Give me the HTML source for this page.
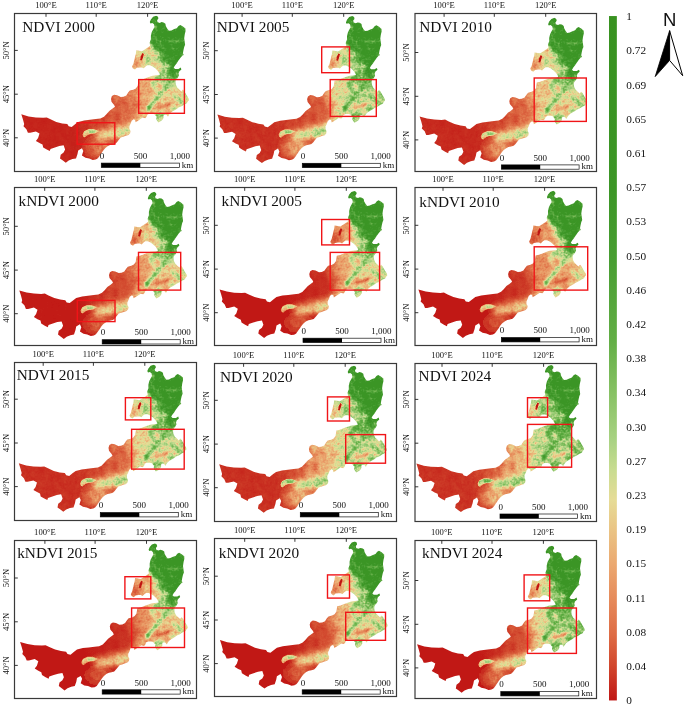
<!DOCTYPE html><html><head><meta charset="utf-8"><title>NDVI kNDVI maps</title>
<style>html,body{margin:0;padding:0;background:#fff}svg{display:block}text{font-family:"Liberation Serif",serif;fill:#111}</style></head><body>
<svg width="685" height="706" viewBox="0 0 685 706">
<defs>
<clipPath id="mapclip"><path d="M6.9,100.9 L14.2,103.0 L21.5,104.1 L28.8,104.4 L32.4,104.1 L36.1,105.9 L41.9,108.5 L47.8,110.0 L52.9,110.7 L54.3,112.9 L57.3,113.6 L60.9,110.7 L63.8,108.5 L69.7,107.0 L75.5,106.3 L81.4,105.6 L85.9,105.1 L89.6,103.3 L92.2,100.7 L94.9,97.6 L97.9,95.4 L100.6,93.3 L99.7,91.5 L97.1,88.4 L96.6,85.4 L97.5,82.7 L99.7,81.4 L102.8,81.9 L106.3,83.6 L109.2,83.3 L111.9,82.0 L113.6,79.4 L115.4,77.2 L118.9,76.3 L121.5,75.0 L123.3,72.4 L124.1,67.1 L127.6,66.3 L131.1,64.9 L134.6,63.6 L138.2,62.3 L141.7,61.9 L145.6,61.4 L144.7,59.7 L143.4,57.5 L140.8,54.9 L138.2,53.1 L135.5,51.8 L132.9,51.8 L131.1,53.1 L129.4,54.9 L127.6,54.0 L125.0,54.0 L122.4,54.4 L120.6,56.2 L118.4,54.9 L117.6,53.1 L118.9,50.5 L119.8,47.0 L120.6,43.5 L121.5,40.0 L121.9,36.9 L125.0,37.4 L127.6,37.8 L131.1,35.6 L134.1,33.6 L135.7,32.3 L135.2,29.3 L136.5,25.8 L136.5,22.2 L137.4,18.7 L138.7,16.1 L140.1,13.5 L139.6,10.9 L137.9,9.5 L136.1,10.0 L135.4,8.7 L136.5,6.0 L138.7,3.4 L141.8,2.3 L143.6,3.4 L144.0,5.2 L142.7,6.9 L143.1,8.7 L145.3,9.5 L147.1,8.7 L149.2,9.1 L151.0,10.4 L151.4,12.6 L152.8,15.2 L154.5,17.4 L157.1,17.0 L159.8,15.7 L162.4,14.8 L164.1,12.6 L165.9,11.6 L168.5,13.1 L171.1,15.2 L171.1,17.9 L170.3,21.4 L169.8,24.9 L170.3,28.4 L170.7,31.4 L169.8,33.6 L169.0,37.1 L168.5,39.8 L169.4,41.5 L168.1,42.1 L166.3,44.1 L164.1,47.2 L162.4,49.8 L160.6,52.0 L159.3,54.2 L160.6,55.5 L164.1,55.5 L166.3,54.2 L167.0,56.0 L165.0,57.9 L164.1,60.0 L164.6,62.2 L163.3,64.4 L161.5,66.6 L161.1,68.8 L161.5,71.4 L162.8,74.1 L165.0,76.2 L166.8,78.0 L168.5,76.2 L169.8,77.6 L171.1,79.8 L172.5,82.4 L174.2,85.0 L174.6,86.8 L173.3,88.1 L172.5,89.8 L170.7,90.7 L168.5,92.0 L166.3,93.3 L164.1,94.2 L162.4,95.5 L160.2,96.8 L158.0,98.1 L155.8,99.9 L154.5,101.7 L153.6,103.4 L152.3,101.7 L150.6,101.2 L149.2,102.1 L149.2,104.3 L147.9,106.5 L146.2,107.8 L144.0,109.1 L142.7,107.3 L141.8,105.6 L142.2,103.4 L140.9,102.1 L140.1,100.8 L137.9,100.3 L135.2,100.3 L133.0,101.2 L132.2,103.4 L130.9,104.8 L128.2,104.2 L126.0,105.7 L123.3,107.5 L121.1,108.8 L120.7,106.6 L119.0,105.9 L117.2,107.5 L116.3,110.1 L115.0,112.7 L115.0,115.4 L116.1,117.6 L115.7,119.8 L114.1,121.5 L111.5,122.4 L108.9,123.3 L106.3,124.1 L104.5,126.3 L102.8,128.5 L101.0,130.3 L98.4,131.1 L95.7,131.6 L93.1,132.9 L90.5,135.1 L88.7,137.3 L87.0,139.9 L85.2,142.5 L83.5,144.8 L81.4,146.1 L78.4,146.5 L74.8,145.0 L71.1,144.3 L67.5,142.1 L68.9,137.7 L67.5,134.8 L63.8,137.0 L63.1,140.6 L61.6,145.0 L58.0,145.7 L54.3,147.2 L51.4,149.4 L48.5,147.2 L45.6,145.0 L46.3,141.3 L49.2,139.2 L50.7,136.2 L49.2,131.9 L44.9,132.6 L40.5,134.0 L36.1,135.5 L35.4,137.7 L32.4,136.2 L28.8,134.0 L28.1,131.1 L25.1,129.7 L21.5,127.5 L23.7,124.6 L25.1,120.2 L21.5,118.0 L15.7,119.4 L13.5,119.4 L12.0,115.8 L9.1,112.9 L9.8,110.7 L8.4,105.6Z"/></clipPath>
<filter id="b05" x="-60%" y="-60%" width="220%" height="220%"><feGaussianBlur stdDeviation="0.6"/></filter>
<filter id="b6" x="-60%" y="-60%" width="220%" height="220%"><feGaussianBlur stdDeviation="6"/></filter>
<filter id="b4" x="-60%" y="-60%" width="220%" height="220%"><feGaussianBlur stdDeviation="4"/></filter>
<filter id="b3" x="-60%" y="-60%" width="220%" height="220%"><feGaussianBlur stdDeviation="3"/></filter>
<filter id="b2" x="-60%" y="-60%" width="220%" height="220%"><feGaussianBlur stdDeviation="2"/></filter>
<filter id="b1" x="-60%" y="-60%" width="220%" height="220%"><feGaussianBlur stdDeviation="1.1"/></filter>
<filter id="ramp" filterUnits="userSpaceOnUse" x="0" y="0" width="190" height="160" color-interpolation-filters="sRGB"><feTurbulence type="fractalNoise" baseFrequency="0.16" numOctaves="2" seed="3" result="n1"/><feTurbulence type="fractalNoise" baseFrequency="0.55" numOctaves="1" seed="11" result="n2"/><feComposite in="n1" in2="n2" operator="arithmetic" k1="0" k2="0.6" k3="0.4" k4="0" result="n3"/><feColorMatrix in="n3" type="matrix" values="1 0 0 0 0  1 0 0 0 0  1 0 0 0 0  0 0 0 0 1" result="n"/><feComposite in="SourceGraphic" in2="n" operator="arithmetic" k1="1.7" k2="0.15" k3="0" k4="0" result="v"/><feComponentTransfer in="v"><feFuncR type="table" tableValues="0.753 0.788 0.824 0.847 0.871 0.890 0.906 0.918 0.922 0.918 0.914 0.902 0.843 0.784 0.702 0.631 0.576 0.525 0.478 0.431 0.384 0.365 0.345 0.322 0.302 0.282 0.271 0.255 0.243 0.235 0.235"/><feFuncG type="table" tableValues="0.086 0.184 0.282 0.353 0.424 0.502 0.573 0.627 0.686 0.741 0.800 0.863 0.863 0.863 0.835 0.808 0.784 0.757 0.733 0.706 0.682 0.671 0.659 0.643 0.631 0.620 0.612 0.600 0.592 0.588 0.588"/><feFuncB type="table" tableValues="0.078 0.129 0.180 0.224 0.271 0.325 0.373 0.420 0.459 0.498 0.541 0.588 0.576 0.565 0.529 0.486 0.431 0.388 0.349 0.310 0.271 0.255 0.239 0.227 0.212 0.196 0.184 0.169 0.157 0.149 0.149"/></feComponentTransfer></filter>
<linearGradient id="cbar" x1="0" y1="0" x2="0" y2="1"><stop offset="-0.0001" stop-color="#389220"/><stop offset="0.2540" stop-color="#3c9626"/><stop offset="0.3562" stop-color="#489e32"/><stop offset="0.4731" stop-color="#62ae45"/><stop offset="0.5607" stop-color="#8cc468"/><stop offset="0.6191" stop-color="#a8d282"/><stop offset="0.6629" stop-color="#c8dc90"/><stop offset="0.7067" stop-color="#e6dc96"/><stop offset="0.7505" stop-color="#eac484"/><stop offset="0.8017" stop-color="#eba870"/><stop offset="0.8528" stop-color="#e68a5a"/><stop offset="0.9039" stop-color="#de6c45"/><stop offset="0.9477" stop-color="#d2482e"/><stop offset="1.0000" stop-color="#c01614"/></linearGradient>
<linearGradient id="g00" gradientUnits="userSpaceOnUse" x1="10" y1="130" x2="150" y2="80"><stop offset="0" stop-color="#050505"/><stop offset="0.34" stop-color="#050505"/><stop offset="0.5" stop-color="#0f0f0f"/><stop offset="0.62" stop-color="#1a1a1a"/><stop offset="0.75" stop-color="#222222"/><stop offset="0.82" stop-color="#333333"/><stop offset="0.9" stop-color="#444444"/><stop offset="1.0" stop-color="#555555"/></linearGradient>
<linearGradient id="g01" gradientUnits="userSpaceOnUse" x1="10" y1="130" x2="150" y2="80"><stop offset="0" stop-color="#090909"/><stop offset="0.36" stop-color="#090909"/><stop offset="0.5" stop-color="#0f0f0f"/><stop offset="0.62" stop-color="#151515"/><stop offset="0.75" stop-color="#1c1c1c"/><stop offset="0.82" stop-color="#555555"/><stop offset="0.9" stop-color="#666666"/><stop offset="1.0" stop-color="#777777"/></linearGradient>
<linearGradient id="g02" gradientUnits="userSpaceOnUse" x1="10" y1="130" x2="150" y2="80"><stop offset="0" stop-color="#070707"/><stop offset="0.36" stop-color="#070707"/><stop offset="0.5" stop-color="#0f0f0f"/><stop offset="0.62" stop-color="#1a1a1a"/><stop offset="0.75" stop-color="#222222"/><stop offset="0.82" stop-color="#484848"/><stop offset="0.9" stop-color="#535353"/><stop offset="1.0" stop-color="#5e5e5e"/></linearGradient>
<linearGradient id="g10" gradientUnits="userSpaceOnUse" x1="10" y1="130" x2="150" y2="80"><stop offset="0" stop-color="#020202"/><stop offset="0.4" stop-color="#020202"/><stop offset="0.5" stop-color="#090909"/><stop offset="0.62" stop-color="#0f0f0f"/><stop offset="0.75" stop-color="#151515"/><stop offset="0.82" stop-color="#2a2a2a"/><stop offset="0.9" stop-color="#3e3e3e"/><stop offset="1.0" stop-color="#515151"/></linearGradient>
<linearGradient id="g11" gradientUnits="userSpaceOnUse" x1="10" y1="130" x2="150" y2="80"><stop offset="0" stop-color="#010101"/><stop offset="0.43" stop-color="#010101"/><stop offset="0.5" stop-color="#040404"/><stop offset="0.62" stop-color="#060606"/><stop offset="0.75" stop-color="#090909"/><stop offset="0.82" stop-color="#2a2a2a"/><stop offset="0.9" stop-color="#444444"/><stop offset="1.0" stop-color="#5e5e5e"/></linearGradient>
<linearGradient id="g12" gradientUnits="userSpaceOnUse" x1="10" y1="130" x2="150" y2="80"><stop offset="0" stop-color="#010101"/><stop offset="0.43" stop-color="#010101"/><stop offset="0.5" stop-color="#040404"/><stop offset="0.62" stop-color="#090909"/><stop offset="0.75" stop-color="#0d0d0d"/><stop offset="0.82" stop-color="#2a2a2a"/><stop offset="0.9" stop-color="#333333"/><stop offset="1.0" stop-color="#3c3c3c"/></linearGradient>
<linearGradient id="g20" gradientUnits="userSpaceOnUse" x1="10" y1="130" x2="150" y2="80"><stop offset="0" stop-color="#090909"/><stop offset="0.36" stop-color="#090909"/><stop offset="0.5" stop-color="#0f0f0f"/><stop offset="0.62" stop-color="#1a1a1a"/><stop offset="0.75" stop-color="#222222"/><stop offset="0.82" stop-color="#515151"/><stop offset="0.9" stop-color="#5e5e5e"/><stop offset="1.0" stop-color="#6a6a6a"/></linearGradient>
<linearGradient id="g21" gradientUnits="userSpaceOnUse" x1="10" y1="130" x2="150" y2="80"><stop offset="0" stop-color="#090909"/><stop offset="0.36" stop-color="#090909"/><stop offset="0.5" stop-color="#131313"/><stop offset="0.62" stop-color="#2f2f2f"/><stop offset="0.75" stop-color="#444444"/><stop offset="0.82" stop-color="#595959"/><stop offset="0.9" stop-color="#666666"/><stop offset="1.0" stop-color="#737373"/></linearGradient>
<linearGradient id="g22" gradientUnits="userSpaceOnUse" x1="10" y1="130" x2="150" y2="80"><stop offset="0" stop-color="#0a0a0a"/><stop offset="0.34" stop-color="#0a0a0a"/><stop offset="0.5" stop-color="#171717"/><stop offset="0.62" stop-color="#373737"/><stop offset="0.75" stop-color="#4c4c4c"/><stop offset="0.82" stop-color="#666666"/><stop offset="0.9" stop-color="#737373"/><stop offset="1.0" stop-color="#808080"/></linearGradient>
<linearGradient id="g30" gradientUnits="userSpaceOnUse" x1="10" y1="130" x2="150" y2="80"><stop offset="0" stop-color="#010101"/><stop offset="0.43" stop-color="#010101"/><stop offset="0.5" stop-color="#040404"/><stop offset="0.62" stop-color="#060606"/><stop offset="0.75" stop-color="#0b0b0b"/><stop offset="0.82" stop-color="#222222"/><stop offset="0.9" stop-color="#373737"/><stop offset="1.0" stop-color="#4c4c4c"/></linearGradient>
<linearGradient id="g31" gradientUnits="userSpaceOnUse" x1="10" y1="130" x2="150" y2="80"><stop offset="0" stop-color="#010101"/><stop offset="0.42" stop-color="#010101"/><stop offset="0.5" stop-color="#050505"/><stop offset="0.62" stop-color="#0d0d0d"/><stop offset="0.75" stop-color="#151515"/><stop offset="0.82" stop-color="#373737"/><stop offset="0.9" stop-color="#4c4c4c"/><stop offset="1.0" stop-color="#626262"/></linearGradient>
<linearGradient id="g32" gradientUnits="userSpaceOnUse" x1="10" y1="130" x2="150" y2="80"><stop offset="0" stop-color="#010101"/><stop offset="0.4" stop-color="#010101"/><stop offset="0.5" stop-color="#060606"/><stop offset="0.62" stop-color="#0f0f0f"/><stop offset="0.75" stop-color="#171717"/><stop offset="0.82" stop-color="#484848"/><stop offset="0.9" stop-color="#666666"/><stop offset="1.0" stop-color="#848484"/></linearGradient>
</defs>
<rect width="685" height="706" fill="#fff"/>
<g transform="translate(14.4,13.4)">
<g transform="translate(0,0)"><g clip-path="url(#mapclip)" filter="url(#ramp)"><rect x="-5" y="-5" width="200" height="170" fill="url(#g00)"/><ellipse cx="86" cy="134" rx="13" ry="8" fill="#2a2a2a" filter="url(#b4)"/><path d="M86,121.5 L98,119.5 L108,116.5 L117,116 L124,109 L131,101" fill="none" stroke="#595959" stroke-width="9" stroke-linecap="round" stroke-linejoin="round" filter="url(#b3)"/><ellipse cx="109" cy="119" rx="7" ry="5" fill="#6a6a6a" filter="url(#b2)"/><path d="M68.7,121 L70.2,118 L74.1,116.2 L79.4,116.2 L84,117.9 L81.1,119.6 L76.8,119.9 L73.3,121.2 L70.6,123.5 L69.2,123Z" fill="#6a6a6a" stroke="#6a6a6a" stroke-width="0.6" stroke-linejoin="round" filter="url(#b05)"/><path d="M83.5,118.6 L88.5,122.2 L97,122.6 L103,120.5" fill="none" stroke="#595959" stroke-width="1.7" stroke-linecap="round" stroke-linejoin="round" filter="url(#b1)"/><ellipse cx="128" cy="45" rx="12" ry="13" fill="#5e5e5e" filter="url(#b3)"/><ellipse cx="122" cy="51" rx="5" ry="5" fill="#373737" filter="url(#b2)"/><ellipse cx="152" cy="66" rx="17" ry="7.5" fill="#7b7b7b" filter="url(#b3)"/><ellipse cx="167" cy="86" rx="7" ry="10" fill="#6a6a6a" filter="url(#b3)"/><path d="M158,66 L147,80 L134,95" fill="none" stroke="#959595" stroke-width="4.2" stroke-linecap="round" filter="url(#b1)"/><path d="M143,93.8 L150,92.6 L156.5,89.6" fill="none" stroke="#222222" stroke-width="2.6" stroke-linecap="round" filter="url(#b1)"/><ellipse cx="146" cy="104" rx="6" ry="5" fill="#959595" filter="url(#b2)"/><path d="M128,-6 L190,-6 L190,52 L172,60 L162,64.5 L153,65 L149,52 L143,40 L136,31Z" fill="#aaaaaa" filter="url(#b3)"/><path d="M130,-6 L190,-6 L190,50 L173,58 L163,62.5 L158,62 L155,52 L150,40 L140,30 L134,20Z" fill="#ffffff" filter="url(#b3)"/><path d="M127.9,39.6 L129.6,40.4 L128.6,44 L127.6,47.2 L125.7,46.6 L126.3,43Z" fill="#000"/></g></g>
<rect x="62.7" y="109.3" width="37.7" height="21.5" fill="none" stroke="#f01418" stroke-width="1.4"/>
<rect x="124.3" y="66.2" width="45.7" height="33.7" fill="none" stroke="#f01418" stroke-width="1.4"/>
</g>
<g transform="translate(14.5,13.5)">
<rect x="0" y="0" width="182.0" height="158.0" fill="none" stroke="#3a3a3a" stroke-width="1.2"/>
<line x1="31.5" y1="0" x2="31.5" y2="3.3" stroke="#222" stroke-width="0.9"/>
<text x="31.5" y="-5.6" font-size="8.6" text-anchor="middle">100°E</text>
<line x1="81.7" y1="0" x2="81.7" y2="3.3" stroke="#222" stroke-width="0.9"/>
<text x="81.7" y="-5.6" font-size="8.6" text-anchor="middle">110°E</text>
<line x1="133.1" y1="0" x2="133.1" y2="3.3" stroke="#222" stroke-width="0.9"/>
<text x="133.1" y="-5.6" font-size="8.6" text-anchor="middle">120°E</text>
<line x1="0" y1="36.9" x2="3.3" y2="36.9" stroke="#222" stroke-width="0.9"/>
<text transform="translate(-5.6,36.9) rotate(-90)" font-size="8.6" text-anchor="middle">50°N</text>
<line x1="0" y1="80.7" x2="3.3" y2="80.7" stroke="#222" stroke-width="0.9"/>
<text transform="translate(-5.6,80.7) rotate(-90)" font-size="8.6" text-anchor="middle">45°N</text>
<line x1="0" y1="124.3" x2="3.3" y2="124.3" stroke="#222" stroke-width="0.9"/>
<text transform="translate(-5.6,124.3) rotate(-90)" font-size="8.6" text-anchor="middle">40°N</text>
<text x="7.8" y="18.9" font-size="15.3">NDVI 2000</text>
<rect x="86.8" y="149.6" width="78.1" height="4.3" fill="#fff" stroke="#111" stroke-width="0.7"/>
<rect x="86.8" y="149.6" width="39.0" height="4.3" fill="#000"/>
<text x="87.5" y="145.3" font-size="9" text-anchor="middle">0</text>
<text x="125.9" y="145.3" font-size="9" text-anchor="middle">500</text>
<text x="165.3" y="145.3" font-size="9" text-anchor="middle">1,000</text>
<text x="167.3" y="154.1" font-size="9">km</text>
</g>
<g transform="translate(214.7,13.4)">
<g transform="translate(-4.2,0.3)"><g clip-path="url(#mapclip)" filter="url(#ramp)"><rect x="-5" y="-5" width="200" height="170" fill="url(#g01)"/><ellipse cx="86" cy="134" rx="13" ry="8" fill="#404040" filter="url(#b4)"/><path d="M86,121.5 L98,119.5 L108,116.5 L117,116 L124,109 L131,101" fill="none" stroke="#6e6e6e" stroke-width="9" stroke-linecap="round" stroke-linejoin="round" filter="url(#b3)"/><ellipse cx="109" cy="119" rx="7" ry="5" fill="#808080" filter="url(#b2)"/><path d="M68.7,121 L70.2,118 L74.1,116.2 L79.4,116.2 L84,117.9 L81.1,119.6 L76.8,119.9 L73.3,121.2 L70.6,123.5 L69.2,123Z" fill="#737373" stroke="#737373" stroke-width="0.6" stroke-linejoin="round" filter="url(#b05)"/><path d="M83.5,118.6 L88.5,122.2 L97,122.6 L103,120.5" fill="none" stroke="#626262" stroke-width="1.7" stroke-linecap="round" stroke-linejoin="round" filter="url(#b1)"/><ellipse cx="128" cy="45" rx="12" ry="13" fill="#626262" filter="url(#b3)"/><ellipse cx="122" cy="51" rx="5" ry="5" fill="#373737" filter="url(#b2)"/><ellipse cx="152" cy="66" rx="17" ry="7.5" fill="#999999" filter="url(#b3)"/><ellipse cx="167" cy="86" rx="7" ry="10" fill="#7b7b7b" filter="url(#b3)"/><path d="M158,66 L147,80 L134,95" fill="none" stroke="#aeaeae" stroke-width="4.2" stroke-linecap="round" filter="url(#b1)"/><path d="M143,93.8 L150,92.6 L156.5,89.6" fill="none" stroke="#333333" stroke-width="2.6" stroke-linecap="round" filter="url(#b1)"/><ellipse cx="146" cy="104" rx="6" ry="5" fill="#a2a2a2" filter="url(#b2)"/><path d="M128,-6 L190,-6 L190,52 L172,60 L162,64.5 L153,65 L149,52 L143,40 L136,31Z" fill="#aaaaaa" filter="url(#b3)"/><path d="M130,-6 L190,-6 L190,50 L173,58 L163,62.5 L158,62 L155,52 L150,40 L140,30 L134,20Z" fill="#ffffff" filter="url(#b3)"/><path d="M127.9,39.6 L129.6,40.4 L128.6,44 L127.6,47.2 L125.7,46.6 L126.3,43Z" fill="#000"/></g></g>
<rect x="107.0" y="33.5" width="27.8" height="25.8" fill="none" stroke="#f01418" stroke-width="1.4"/>
<rect x="115.5" y="66.2" width="46.1" height="36.8" fill="none" stroke="#f01418" stroke-width="1.4"/>
</g>
<g transform="translate(214.5,13.5)">
<rect x="0" y="0" width="182.0" height="158.0" fill="none" stroke="#3a3a3a" stroke-width="1.2"/>
<line x1="27.6" y1="0" x2="27.6" y2="3.3" stroke="#222" stroke-width="0.9"/>
<text x="27.6" y="-5.6" font-size="8.6" text-anchor="middle">100°E</text>
<line x1="77.8" y1="0" x2="77.8" y2="3.3" stroke="#222" stroke-width="0.9"/>
<text x="77.8" y="-5.6" font-size="8.6" text-anchor="middle">110°E</text>
<line x1="129.2" y1="0" x2="129.2" y2="3.3" stroke="#222" stroke-width="0.9"/>
<text x="129.2" y="-5.6" font-size="8.6" text-anchor="middle">120°E</text>
<line x1="0" y1="37.2" x2="3.3" y2="37.2" stroke="#222" stroke-width="0.9"/>
<text transform="translate(-5.6,37.2) rotate(-90)" font-size="8.6" text-anchor="middle">50°N</text>
<line x1="0" y1="81.0" x2="3.3" y2="81.0" stroke="#222" stroke-width="0.9"/>
<text transform="translate(-5.6,81.0) rotate(-90)" font-size="8.6" text-anchor="middle">45°N</text>
<line x1="0" y1="124.6" x2="3.3" y2="124.6" stroke="#222" stroke-width="0.9"/>
<text transform="translate(-5.6,124.6) rotate(-90)" font-size="8.6" text-anchor="middle">40°N</text>
<text x="2.2" y="18.9" font-size="15.3">NDVI 2005</text>
<rect x="87.8" y="149.8" width="78.0" height="4.3" fill="#fff" stroke="#111" stroke-width="0.7"/>
<rect x="87.8" y="149.8" width="39.0" height="4.3" fill="#000"/>
<text x="88.5" y="145.5" font-size="9" text-anchor="middle">0</text>
<text x="126.8" y="145.5" font-size="9" text-anchor="middle">500</text>
<text x="166.2" y="145.5" font-size="9" text-anchor="middle">1,000</text>
<text x="168.2" y="154.3" font-size="9">km</text>
</g>
<g transform="translate(415.0,13.4)">
<g transform="translate(-2.3,2.1)"><g clip-path="url(#mapclip)" filter="url(#ramp)"><rect x="-5" y="-5" width="200" height="170" fill="url(#g02)"/><ellipse cx="86" cy="134" rx="13" ry="8" fill="#373737" filter="url(#b4)"/><path d="M86,121.5 L98,119.5 L108,116.5 L117,116 L124,109 L131,101" fill="none" stroke="#666666" stroke-width="9" stroke-linecap="round" stroke-linejoin="round" filter="url(#b3)"/><ellipse cx="109" cy="119" rx="7" ry="5" fill="#777777" filter="url(#b2)"/><path d="M68.7,121 L70.2,118 L74.1,116.2 L79.4,116.2 L84,117.9 L81.1,119.6 L76.8,119.9 L73.3,121.2 L70.6,123.5 L69.2,123Z" fill="#737373" stroke="#737373" stroke-width="0.6" stroke-linejoin="round" filter="url(#b05)"/><path d="M83.5,118.6 L88.5,122.2 L97,122.6 L103,120.5" fill="none" stroke="#626262" stroke-width="1.7" stroke-linecap="round" stroke-linejoin="round" filter="url(#b1)"/><ellipse cx="128" cy="45" rx="12" ry="13" fill="#595959" filter="url(#b3)"/><ellipse cx="122" cy="51" rx="5" ry="5" fill="#333333" filter="url(#b2)"/><ellipse cx="152" cy="66" rx="17" ry="7.5" fill="#848484" filter="url(#b3)"/><ellipse cx="167" cy="86" rx="7" ry="10" fill="#777777" filter="url(#b3)"/><path d="M158,66 L147,80 L134,95" fill="none" stroke="#999999" stroke-width="4.2" stroke-linecap="round" filter="url(#b1)"/><path d="M143,93.8 L150,92.6 L156.5,89.6" fill="none" stroke="#333333" stroke-width="2.6" stroke-linecap="round" filter="url(#b1)"/><ellipse cx="146" cy="104" rx="6" ry="5" fill="#999999" filter="url(#b2)"/><path d="M128,-6 L190,-6 L190,52 L172,60 L162,64.5 L153,65 L149,52 L143,40 L136,31Z" fill="#aaaaaa" filter="url(#b3)"/><path d="M130,-6 L190,-6 L190,50 L173,58 L163,62.5 L158,62 L155,52 L150,40 L140,30 L134,20Z" fill="#ffffff" filter="url(#b3)"/><path d="M127.9,39.6 L129.6,40.4 L128.6,44 L127.6,47.2 L125.7,46.6 L126.3,43Z" fill="#000"/></g></g>
<rect x="119.2" y="64.6" width="52.1" height="43.4" fill="none" stroke="#f01418" stroke-width="1.4"/>
</g>
<g transform="translate(415.0,13.5)">
<rect x="0" y="0" width="181.5" height="158.0" fill="none" stroke="#3a3a3a" stroke-width="1.2"/>
<line x1="29.1" y1="0" x2="29.1" y2="3.3" stroke="#222" stroke-width="0.9"/>
<text x="29.1" y="-5.6" font-size="8.6" text-anchor="middle">100°E</text>
<line x1="79.3" y1="0" x2="79.3" y2="3.3" stroke="#222" stroke-width="0.9"/>
<text x="79.3" y="-5.6" font-size="8.6" text-anchor="middle">110°E</text>
<line x1="130.7" y1="0" x2="130.7" y2="3.3" stroke="#222" stroke-width="0.9"/>
<text x="130.7" y="-5.6" font-size="8.6" text-anchor="middle">120°E</text>
<line x1="0" y1="39.0" x2="3.3" y2="39.0" stroke="#222" stroke-width="0.9"/>
<text transform="translate(-5.6,39.0) rotate(-90)" font-size="8.6" text-anchor="middle">50°N</text>
<line x1="0" y1="82.8" x2="3.3" y2="82.8" stroke="#222" stroke-width="0.9"/>
<text transform="translate(-5.6,82.8) rotate(-90)" font-size="8.6" text-anchor="middle">45°N</text>
<line x1="0" y1="126.4" x2="3.3" y2="126.4" stroke="#222" stroke-width="0.9"/>
<text transform="translate(-5.6,126.4) rotate(-90)" font-size="8.6" text-anchor="middle">40°N</text>
<text x="4.3" y="18.9" font-size="15.3">NDVI 2010</text>
<rect x="86.4" y="151.4" width="77.7" height="4.3" fill="#fff" stroke="#111" stroke-width="0.7"/>
<rect x="86.4" y="151.4" width="38.8" height="4.3" fill="#000"/>
<text x="87.1" y="147.1" font-size="9" text-anchor="middle">0</text>
<text x="125.2" y="147.1" font-size="9" text-anchor="middle">500</text>
<text x="164.5" y="147.1" font-size="9" text-anchor="middle">1,000</text>
<text x="166.5" y="155.9" font-size="9">km</text>
</g>
<g transform="translate(14.4,188.2)">
<g transform="translate(-2.0,1.3)"><g clip-path="url(#mapclip)" filter="url(#ramp)"><rect x="-5" y="-5" width="200" height="170" fill="url(#g10)"/><ellipse cx="86" cy="134" rx="13" ry="8" fill="#1e1e1e" filter="url(#b4)"/><path d="M86,121.5 L98,119.5 L108,116.5 L117,116 L124,109 L131,101" fill="none" stroke="#555555" stroke-width="9" stroke-linecap="round" stroke-linejoin="round" filter="url(#b3)"/><ellipse cx="109" cy="119" rx="7" ry="5" fill="#666666" filter="url(#b2)"/><path d="M68.7,121 L70.2,118 L74.1,116.2 L79.4,116.2 L84,117.9 L81.1,119.6 L76.8,119.9 L73.3,121.2 L70.6,123.5 L69.2,123Z" fill="#666666" stroke="#666666" stroke-width="0.6" stroke-linejoin="round" filter="url(#b05)"/><path d="M83.5,118.6 L88.5,122.2 L97,122.6 L103,120.5" fill="none" stroke="#555555" stroke-width="1.7" stroke-linecap="round" stroke-linejoin="round" filter="url(#b1)"/><ellipse cx="128" cy="45" rx="12" ry="13" fill="#484848" filter="url(#b3)"/><ellipse cx="122" cy="51" rx="5" ry="5" fill="#1e1e1e" filter="url(#b2)"/><ellipse cx="152" cy="66" rx="17" ry="7.5" fill="#808080" filter="url(#b3)"/><ellipse cx="167" cy="86" rx="7" ry="10" fill="#6a6a6a" filter="url(#b3)"/><path d="M158,66 L147,80 L134,95" fill="none" stroke="#999999" stroke-width="4.2" stroke-linecap="round" filter="url(#b1)"/><path d="M143,93.8 L150,92.6 L156.5,89.6" fill="none" stroke="#1a1a1a" stroke-width="2.6" stroke-linecap="round" filter="url(#b1)"/><ellipse cx="146" cy="104" rx="6" ry="5" fill="#959595" filter="url(#b2)"/><path d="M128,-6 L190,-6 L190,52 L172,60 L162,64.5 L153,65 L149,52 L143,40 L136,31Z" fill="#aaaaaa" filter="url(#b3)"/><path d="M130,-6 L190,-6 L190,50 L173,58 L163,62.5 L158,62 L155,52 L150,40 L140,30 L134,20Z" fill="#ffffff" filter="url(#b3)"/><path d="M127.9,39.6 L129.6,40.4 L128.6,44 L127.6,47.2 L125.7,46.6 L126.3,43Z" fill="#000"/></g></g>
<rect x="62.9" y="112.2" width="37.7" height="21.2" fill="none" stroke="#f01418" stroke-width="1.4"/>
<rect x="124.1" y="64.2" width="42.2" height="37.7" fill="none" stroke="#f01418" stroke-width="1.4"/>
</g>
<g transform="translate(14.5,187.5)">
<rect x="0" y="0" width="182.0" height="158.0" fill="none" stroke="#3a3a3a" stroke-width="1.2"/>
<line x1="30.2" y1="0" x2="30.2" y2="3.3" stroke="#222" stroke-width="0.9"/>
<text x="30.2" y="-5.6" font-size="8.6" text-anchor="middle">100°E</text>
<line x1="80.4" y1="0" x2="80.4" y2="3.3" stroke="#222" stroke-width="0.9"/>
<text x="80.4" y="-5.6" font-size="8.6" text-anchor="middle">110°E</text>
<line x1="131.8" y1="0" x2="131.8" y2="3.3" stroke="#222" stroke-width="0.9"/>
<text x="131.8" y="-5.6" font-size="8.6" text-anchor="middle">120°E</text>
<line x1="0" y1="38.8" x2="3.3" y2="38.8" stroke="#222" stroke-width="0.9"/>
<text transform="translate(-5.6,38.8) rotate(-90)" font-size="8.6" text-anchor="middle">50°N</text>
<line x1="0" y1="82.6" x2="3.3" y2="82.6" stroke="#222" stroke-width="0.9"/>
<text transform="translate(-5.6,82.6) rotate(-90)" font-size="8.6" text-anchor="middle">45°N</text>
<line x1="0" y1="126.2" x2="3.3" y2="126.2" stroke="#222" stroke-width="0.9"/>
<text transform="translate(-5.6,126.2) rotate(-90)" font-size="8.6" text-anchor="middle">40°N</text>
<text x="4.1" y="18.7" font-size="15.3">kNDVI 2000</text>
<rect x="87.7" y="152.2" width="78.0" height="4.3" fill="#fff" stroke="#111" stroke-width="0.7"/>
<rect x="87.7" y="152.2" width="39.0" height="4.3" fill="#000"/>
<text x="88.4" y="147.9" font-size="9" text-anchor="middle">0</text>
<text x="126.7" y="147.9" font-size="9" text-anchor="middle">500</text>
<text x="166.1" y="147.9" font-size="9" text-anchor="middle">1,000</text>
<text x="168.1" y="156.7" font-size="9">km</text>
</g>
<g transform="translate(214.7,188.2)">
<g transform="translate(-2.0,0.4)"><g clip-path="url(#mapclip)" filter="url(#ramp)"><rect x="-5" y="-5" width="200" height="170" fill="url(#g11)"/><ellipse cx="86" cy="134" rx="13" ry="8" fill="#151515" filter="url(#b4)"/><path d="M86,121.5 L98,119.5 L108,116.5 L117,116 L124,109 L131,101" fill="none" stroke="#4c4c4c" stroke-width="9" stroke-linecap="round" stroke-linejoin="round" filter="url(#b3)"/><ellipse cx="109" cy="119" rx="7" ry="5" fill="#5e5e5e" filter="url(#b2)"/><path d="M68.7,121 L70.2,118 L74.1,116.2 L79.4,116.2 L84,117.9 L81.1,119.6 L76.8,119.9 L73.3,121.2 L70.6,123.5 L69.2,123Z" fill="#5e5e5e" stroke="#5e5e5e" stroke-width="0.6" stroke-linejoin="round" filter="url(#b05)"/><path d="M83.5,118.6 L88.5,122.2 L97,122.6 L103,120.5" fill="none" stroke="#4c4c4c" stroke-width="1.7" stroke-linecap="round" stroke-linejoin="round" filter="url(#b1)"/><ellipse cx="128" cy="45" rx="12" ry="13" fill="#333333" filter="url(#b3)"/><ellipse cx="122" cy="51" rx="5" ry="5" fill="#151515" filter="url(#b2)"/><ellipse cx="152" cy="66" rx="17" ry="7.5" fill="#777777" filter="url(#b3)"/><ellipse cx="167" cy="86" rx="7" ry="10" fill="#6e6e6e" filter="url(#b3)"/><path d="M158,66 L147,80 L134,95" fill="none" stroke="#959595" stroke-width="4.2" stroke-linecap="round" filter="url(#b1)"/><path d="M143,93.8 L150,92.6 L156.5,89.6" fill="none" stroke="#151515" stroke-width="2.6" stroke-linecap="round" filter="url(#b1)"/><ellipse cx="146" cy="104" rx="6" ry="5" fill="#959595" filter="url(#b2)"/><path d="M128,-6 L190,-6 L190,52 L172,60 L162,64.5 L153,65 L149,52 L143,40 L136,31Z" fill="#aaaaaa" filter="url(#b3)"/><path d="M130,-6 L190,-6 L190,50 L173,58 L163,62.5 L158,62 L155,52 L150,40 L140,30 L134,20Z" fill="#ffffff" filter="url(#b3)"/><path d="M127.9,39.6 L129.6,40.4 L128.6,44 L127.6,47.2 L125.7,46.6 L126.3,43Z" fill="#000"/></g></g>
<rect x="107.0" y="31.3" width="27.8" height="25.4" fill="none" stroke="#f01418" stroke-width="1.4"/>
<rect x="115.5" y="64.2" width="49.4" height="37.7" fill="none" stroke="#f01418" stroke-width="1.4"/>
</g>
<g transform="translate(214.5,187.5)">
<rect x="0" y="0" width="182.0" height="158.0" fill="none" stroke="#3a3a3a" stroke-width="1.2"/>
<line x1="30.2" y1="0" x2="30.2" y2="3.3" stroke="#222" stroke-width="0.9"/>
<text x="30.2" y="-5.6" font-size="8.6" text-anchor="middle">100°E</text>
<line x1="80.4" y1="0" x2="80.4" y2="3.3" stroke="#222" stroke-width="0.9"/>
<text x="80.4" y="-5.6" font-size="8.6" text-anchor="middle">110°E</text>
<line x1="131.8" y1="0" x2="131.8" y2="3.3" stroke="#222" stroke-width="0.9"/>
<text x="131.8" y="-5.6" font-size="8.6" text-anchor="middle">120°E</text>
<line x1="0" y1="37.8" x2="3.3" y2="37.8" stroke="#222" stroke-width="0.9"/>
<text transform="translate(-5.6,37.8) rotate(-90)" font-size="8.6" text-anchor="middle">50°N</text>
<line x1="0" y1="81.6" x2="3.3" y2="81.6" stroke="#222" stroke-width="0.9"/>
<text transform="translate(-5.6,81.6) rotate(-90)" font-size="8.6" text-anchor="middle">45°N</text>
<line x1="0" y1="125.2" x2="3.3" y2="125.2" stroke="#222" stroke-width="0.9"/>
<text transform="translate(-5.6,125.2) rotate(-90)" font-size="8.6" text-anchor="middle">40°N</text>
<text x="7.0" y="18.7" font-size="15.3">kNDVI 2005</text>
<rect x="88.5" y="150.7" width="78.0" height="4.3" fill="#fff" stroke="#111" stroke-width="0.7"/>
<rect x="88.5" y="150.7" width="39.0" height="4.3" fill="#000"/>
<text x="89.2" y="146.4" font-size="9" text-anchor="middle">0</text>
<text x="127.5" y="146.4" font-size="9" text-anchor="middle">500</text>
<text x="166.9" y="146.4" font-size="9" text-anchor="middle">1,000</text>
<text x="168.9" y="155.2" font-size="9">km</text>
</g>
<g transform="translate(415.0,188.2)">
<g transform="translate(-3.5,0.3)"><g clip-path="url(#mapclip)" filter="url(#ramp)"><rect x="-5" y="-5" width="200" height="170" fill="url(#g12)"/><ellipse cx="86" cy="134" rx="13" ry="8" fill="#151515" filter="url(#b4)"/><path d="M86,121.5 L98,119.5 L108,116.5 L117,116 L124,109 L131,101" fill="none" stroke="#444444" stroke-width="9" stroke-linecap="round" stroke-linejoin="round" filter="url(#b3)"/><ellipse cx="109" cy="119" rx="7" ry="5" fill="#555555" filter="url(#b2)"/><path d="M68.7,121 L70.2,118 L74.1,116.2 L79.4,116.2 L84,117.9 L81.1,119.6 L76.8,119.9 L73.3,121.2 L70.6,123.5 L69.2,123Z" fill="#5e5e5e" stroke="#5e5e5e" stroke-width="0.6" stroke-linejoin="round" filter="url(#b05)"/><path d="M83.5,118.6 L88.5,122.2 L97,122.6 L103,120.5" fill="none" stroke="#4c4c4c" stroke-width="1.7" stroke-linecap="round" stroke-linejoin="round" filter="url(#b1)"/><ellipse cx="128" cy="45" rx="12" ry="13" fill="#2f2f2f" filter="url(#b3)"/><ellipse cx="122" cy="51" rx="5" ry="5" fill="#151515" filter="url(#b2)"/><ellipse cx="152" cy="66" rx="17" ry="7.5" fill="#6e6e6e" filter="url(#b3)"/><ellipse cx="167" cy="86" rx="7" ry="10" fill="#626262" filter="url(#b3)"/><path d="M158,66 L147,80 L134,95" fill="none" stroke="#888888" stroke-width="4.2" stroke-linecap="round" filter="url(#b1)"/><path d="M143,93.8 L150,92.6 L156.5,89.6" fill="none" stroke="#151515" stroke-width="2.6" stroke-linecap="round" filter="url(#b1)"/><ellipse cx="146" cy="104" rx="6" ry="5" fill="#888888" filter="url(#b2)"/><path d="M128,-6 L190,-6 L190,52 L172,60 L162,64.5 L153,65 L149,52 L143,40 L136,31Z" fill="#aaaaaa" filter="url(#b3)"/><path d="M130,-6 L190,-6 L190,50 L173,58 L163,62.5 L158,62 L155,52 L150,40 L140,30 L134,20Z" fill="#ffffff" filter="url(#b3)"/><path d="M127.9,39.6 L129.6,40.4 L128.6,44 L127.6,47.2 L125.7,46.6 L126.3,43Z" fill="#000"/></g></g>
<rect x="119.2" y="58.6" width="53.5" height="43.3" fill="none" stroke="#f01418" stroke-width="1.4"/>
</g>
<g transform="translate(415.0,187.5)">
<rect x="0" y="0" width="181.5" height="158.0" fill="none" stroke="#3a3a3a" stroke-width="1.2"/>
<line x1="28.0" y1="0" x2="28.0" y2="3.3" stroke="#222" stroke-width="0.9"/>
<text x="28.0" y="-5.6" font-size="8.6" text-anchor="middle">100°E</text>
<line x1="78.2" y1="0" x2="78.2" y2="3.3" stroke="#222" stroke-width="0.9"/>
<text x="78.2" y="-5.6" font-size="8.6" text-anchor="middle">110°E</text>
<line x1="129.6" y1="0" x2="129.6" y2="3.3" stroke="#222" stroke-width="0.9"/>
<text x="129.6" y="-5.6" font-size="8.6" text-anchor="middle">120°E</text>
<line x1="0" y1="37.8" x2="3.3" y2="37.8" stroke="#222" stroke-width="0.9"/>
<text transform="translate(-5.6,37.8) rotate(-90)" font-size="8.6" text-anchor="middle">50°N</text>
<line x1="0" y1="81.6" x2="3.3" y2="81.6" stroke="#222" stroke-width="0.9"/>
<text transform="translate(-5.6,81.6) rotate(-90)" font-size="8.6" text-anchor="middle">45°N</text>
<line x1="0" y1="125.2" x2="3.3" y2="125.2" stroke="#222" stroke-width="0.9"/>
<text transform="translate(-5.6,125.2) rotate(-90)" font-size="8.6" text-anchor="middle">40°N</text>
<text x="4.3" y="19.2" font-size="15.3">kNDVI 2010</text>
<rect x="86.4" y="150.1" width="77.7" height="4.3" fill="#fff" stroke="#111" stroke-width="0.7"/>
<rect x="86.4" y="150.1" width="38.8" height="4.3" fill="#000"/>
<text x="87.1" y="145.8" font-size="9" text-anchor="middle">0</text>
<text x="125.2" y="145.8" font-size="9" text-anchor="middle">500</text>
<text x="164.5" y="145.8" font-size="9" text-anchor="middle">1,000</text>
<text x="166.5" y="154.6" font-size="9">km</text>
</g>
<g transform="translate(14.4,363.8)">
<g transform="translate(-2.5,-1.4)"><g clip-path="url(#mapclip)" filter="url(#ramp)"><rect x="-5" y="-5" width="200" height="170" fill="url(#g20)"/><ellipse cx="86" cy="134" rx="13" ry="8" fill="#373737" filter="url(#b4)"/><path d="M86,121.5 L98,119.5 L108,116.5 L117,116 L124,109 L131,101" fill="none" stroke="#6e6e6e" stroke-width="9" stroke-linecap="round" stroke-linejoin="round" filter="url(#b3)"/><ellipse cx="109" cy="119" rx="7" ry="5" fill="#808080" filter="url(#b2)"/><path d="M68.7,121 L70.2,118 L74.1,116.2 L79.4,116.2 L84,117.9 L81.1,119.6 L76.8,119.9 L73.3,121.2 L70.6,123.5 L69.2,123Z" fill="#737373" stroke="#737373" stroke-width="0.6" stroke-linejoin="round" filter="url(#b05)"/><path d="M83.5,118.6 L88.5,122.2 L97,122.6 L103,120.5" fill="none" stroke="#626262" stroke-width="1.7" stroke-linecap="round" stroke-linejoin="round" filter="url(#b1)"/><ellipse cx="128" cy="45" rx="12" ry="13" fill="#666666" filter="url(#b3)"/><ellipse cx="122" cy="51" rx="5" ry="5" fill="#484848" filter="url(#b2)"/><ellipse cx="152" cy="66" rx="17" ry="7.5" fill="#909090" filter="url(#b3)"/><ellipse cx="167" cy="86" rx="7" ry="10" fill="#777777" filter="url(#b3)"/><path d="M158,66 L147,80 L134,95" fill="none" stroke="#a2a2a2" stroke-width="4.2" stroke-linecap="round" filter="url(#b1)"/><path d="M143,93.8 L150,92.6 L156.5,89.6" fill="none" stroke="#333333" stroke-width="2.6" stroke-linecap="round" filter="url(#b1)"/><ellipse cx="146" cy="104" rx="6" ry="5" fill="#999999" filter="url(#b2)"/><path d="M128,-6 L190,-6 L190,52 L172,60 L162,64.5 L153,65 L149,52 L143,40 L136,31Z" fill="#aaaaaa" filter="url(#b3)"/><path d="M130,-6 L190,-6 L190,50 L173,58 L163,62.5 L158,62 L155,52 L150,40 L140,30 L134,20Z" fill="#ffffff" filter="url(#b3)"/><path d="M127.9,39.6 L129.6,40.4 L128.6,44 L127.6,47.2 L125.7,46.6 L126.3,43Z" fill="#000"/></g></g>
<rect x="111.0" y="33.9" width="25.4" height="22.2" fill="none" stroke="#f01418" stroke-width="1.4"/>
<rect x="117.2" y="65.5" width="52.6" height="39.8" fill="none" stroke="#f01418" stroke-width="1.4"/>
</g>
<g transform="translate(14.5,362.5)">
<rect x="0" y="0" width="182.0" height="158.0" fill="none" stroke="#3a3a3a" stroke-width="1.2"/>
<line x1="28.7" y1="0" x2="28.7" y2="3.3" stroke="#222" stroke-width="0.9"/>
<text x="28.7" y="-5.6" font-size="8.6" text-anchor="middle">100°E</text>
<line x1="78.9" y1="0" x2="78.9" y2="3.3" stroke="#222" stroke-width="0.9"/>
<text x="78.9" y="-5.6" font-size="8.6" text-anchor="middle">110°E</text>
<line x1="130.3" y1="0" x2="130.3" y2="3.3" stroke="#222" stroke-width="0.9"/>
<text x="130.3" y="-5.6" font-size="8.6" text-anchor="middle">120°E</text>
<line x1="0" y1="36.7" x2="3.3" y2="36.7" stroke="#222" stroke-width="0.9"/>
<text transform="translate(-5.6,36.7) rotate(-90)" font-size="8.6" text-anchor="middle">50°N</text>
<line x1="0" y1="80.5" x2="3.3" y2="80.5" stroke="#222" stroke-width="0.9"/>
<text transform="translate(-5.6,80.5) rotate(-90)" font-size="8.6" text-anchor="middle">45°N</text>
<line x1="0" y1="124.1" x2="3.3" y2="124.1" stroke="#222" stroke-width="0.9"/>
<text transform="translate(-5.6,124.1) rotate(-90)" font-size="8.6" text-anchor="middle">40°N</text>
<text x="2.2" y="17.9" font-size="15.3">NDVI 2015</text>
<rect x="85.8" y="150.1" width="78.0" height="4.3" fill="#fff" stroke="#111" stroke-width="0.7"/>
<rect x="85.8" y="150.1" width="39.0" height="4.3" fill="#000"/>
<text x="86.5" y="145.8" font-size="9" text-anchor="middle">0</text>
<text x="124.8" y="145.8" font-size="9" text-anchor="middle">500</text>
<text x="164.2" y="145.8" font-size="9" text-anchor="middle">1,000</text>
<text x="166.2" y="154.6" font-size="9">km</text>
</g>
<g transform="translate(214.7,363.8)">
<g transform="translate(-2.4,-0.4)"><g clip-path="url(#mapclip)" filter="url(#ramp)"><rect x="-5" y="-5" width="200" height="170" fill="url(#g21)"/><ellipse cx="86" cy="134" rx="13" ry="8" fill="#444444" filter="url(#b4)"/><path d="M86,121.5 L98,119.5 L108,116.5 L117,116 L124,109 L131,101" fill="none" stroke="#737373" stroke-width="9" stroke-linecap="round" stroke-linejoin="round" filter="url(#b3)"/><ellipse cx="109" cy="119" rx="7" ry="5" fill="#848484" filter="url(#b2)"/><path d="M68.7,121 L70.2,118 L74.1,116.2 L79.4,116.2 L84,117.9 L81.1,119.6 L76.8,119.9 L73.3,121.2 L70.6,123.5 L69.2,123Z" fill="#808080" stroke="#808080" stroke-width="0.6" stroke-linejoin="round" filter="url(#b05)"/><path d="M83.5,118.6 L88.5,122.2 L97,122.6 L103,120.5" fill="none" stroke="#6f6f6f" stroke-width="1.7" stroke-linecap="round" stroke-linejoin="round" filter="url(#b1)"/><ellipse cx="128" cy="45" rx="12" ry="13" fill="#6e6e6e" filter="url(#b3)"/><ellipse cx="122" cy="51" rx="5" ry="5" fill="#555555" filter="url(#b2)"/><ellipse cx="152" cy="66" rx="17" ry="7.5" fill="#a2a2a2" filter="url(#b3)"/><ellipse cx="167" cy="86" rx="7" ry="10" fill="#777777" filter="url(#b3)"/><path d="M158,66 L147,80 L134,95" fill="none" stroke="#a2a2a2" stroke-width="4.2" stroke-linecap="round" filter="url(#b1)"/><path d="M143,93.8 L150,92.6 L156.5,89.6" fill="none" stroke="#333333" stroke-width="2.6" stroke-linecap="round" filter="url(#b1)"/><ellipse cx="146" cy="104" rx="6" ry="5" fill="#999999" filter="url(#b2)"/><path d="M128,-6 L190,-6 L190,52 L172,60 L162,64.5 L153,65 L149,52 L143,40 L136,31Z" fill="#aaaaaa" filter="url(#b3)"/><path d="M130,-6 L190,-6 L190,50 L173,58 L163,62.5 L158,62 L155,52 L150,40 L140,30 L134,20Z" fill="#ffffff" filter="url(#b3)"/><path d="M127.9,39.6 L129.6,40.4 L128.6,44 L127.6,47.2 L125.7,46.6 L126.3,43Z" fill="#000"/></g></g>
<rect x="112.8" y="33.1" width="22.0" height="24.1" fill="none" stroke="#f01418" stroke-width="1.4"/>
<rect x="131.0" y="70.8" width="39.8" height="28.6" fill="none" stroke="#f01418" stroke-width="1.4"/>
</g>
<g transform="translate(214.5,363.5)">
<rect x="0" y="0" width="182.0" height="158.0" fill="none" stroke="#3a3a3a" stroke-width="1.2"/>
<line x1="29.1" y1="0" x2="29.1" y2="3.3" stroke="#222" stroke-width="0.9"/>
<text x="29.1" y="-5.6" font-size="8.6" text-anchor="middle">100°E</text>
<line x1="79.3" y1="0" x2="79.3" y2="3.3" stroke="#222" stroke-width="0.9"/>
<text x="79.3" y="-5.6" font-size="8.6" text-anchor="middle">110°E</text>
<line x1="130.7" y1="0" x2="130.7" y2="3.3" stroke="#222" stroke-width="0.9"/>
<text x="130.7" y="-5.6" font-size="8.6" text-anchor="middle">120°E</text>
<line x1="0" y1="36.8" x2="3.3" y2="36.8" stroke="#222" stroke-width="0.9"/>
<text transform="translate(-5.6,36.8) rotate(-90)" font-size="8.6" text-anchor="middle">50°N</text>
<line x1="0" y1="80.6" x2="3.3" y2="80.6" stroke="#222" stroke-width="0.9"/>
<text transform="translate(-5.6,80.6) rotate(-90)" font-size="8.6" text-anchor="middle">45°N</text>
<line x1="0" y1="124.2" x2="3.3" y2="124.2" stroke="#222" stroke-width="0.9"/>
<text transform="translate(-5.6,124.2) rotate(-90)" font-size="8.6" text-anchor="middle">40°N</text>
<text x="5.4" y="18.7" font-size="15.3">NDVI 2020</text>
<rect x="85.8" y="149.1" width="78.0" height="4.3" fill="#fff" stroke="#111" stroke-width="0.7"/>
<rect x="85.8" y="149.1" width="39.0" height="4.3" fill="#000"/>
<text x="86.5" y="144.8" font-size="9" text-anchor="middle">0</text>
<text x="124.8" y="144.8" font-size="9" text-anchor="middle">500</text>
<text x="164.2" y="144.8" font-size="9" text-anchor="middle">1,000</text>
<text x="166.2" y="153.6" font-size="9">km</text>
</g>
<g transform="translate(415.0,363.8)">
<g transform="translate(-5.5,-1.1)"><g clip-path="url(#mapclip)" filter="url(#ramp)"><rect x="-5" y="-5" width="200" height="170" fill="url(#g22)"/><ellipse cx="86" cy="134" rx="13" ry="8" fill="#4c4c4c" filter="url(#b4)"/><path d="M86,121.5 L98,119.5 L108,116.5 L117,116 L124,109 L131,101" fill="none" stroke="#7b7b7b" stroke-width="9" stroke-linecap="round" stroke-linejoin="round" filter="url(#b3)"/><ellipse cx="109" cy="119" rx="7" ry="5" fill="#8c8c8c" filter="url(#b2)"/><path d="M68.7,121 L70.2,118 L74.1,116.2 L79.4,116.2 L84,117.9 L81.1,119.6 L76.8,119.9 L73.3,121.2 L70.6,123.5 L69.2,123Z" fill="#8c8c8c" stroke="#8c8c8c" stroke-width="0.6" stroke-linejoin="round" filter="url(#b05)"/><path d="M83.5,118.6 L88.5,122.2 L97,122.6 L103,120.5" fill="none" stroke="#7b7b7b" stroke-width="1.7" stroke-linecap="round" stroke-linejoin="round" filter="url(#b1)"/><ellipse cx="128" cy="45" rx="12" ry="13" fill="#777777" filter="url(#b3)"/><ellipse cx="122" cy="51" rx="5" ry="5" fill="#5e5e5e" filter="url(#b2)"/><ellipse cx="152" cy="66" rx="17" ry="7.5" fill="#b2b2b2" filter="url(#b3)"/><ellipse cx="167" cy="86" rx="7" ry="10" fill="#888888" filter="url(#b3)"/><path d="M158,66 L147,80 L134,95" fill="none" stroke="#b7b7b7" stroke-width="4.2" stroke-linecap="round" filter="url(#b1)"/><path d="M143,93.8 L150,92.6 L156.5,89.6" fill="none" stroke="#404040" stroke-width="2.6" stroke-linecap="round" filter="url(#b1)"/><ellipse cx="146" cy="104" rx="6" ry="5" fill="#a2a2a2" filter="url(#b2)"/><path d="M128,-6 L190,-6 L190,52 L172,60 L162,64.5 L153,65 L149,52 L143,40 L136,31Z" fill="#aaaaaa" filter="url(#b3)"/><path d="M130,-6 L190,-6 L190,50 L173,58 L163,62.5 L158,62 L155,52 L150,40 L140,30 L134,20Z" fill="#ffffff" filter="url(#b3)"/><path d="M127.9,39.6 L129.6,40.4 L128.6,44 L127.6,47.2 L125.7,46.6 L126.3,43Z" fill="#000"/></g></g>
<rect x="112.5" y="33.9" width="20.1" height="19.5" fill="none" stroke="#f01418" stroke-width="1.4"/>
<rect x="112.5" y="60.6" width="44.1" height="42.8" fill="none" stroke="#f01418" stroke-width="1.4"/>
</g>
<g transform="translate(415.0,363.5)">
<rect x="0" y="0" width="181.5" height="158.0" fill="none" stroke="#3a3a3a" stroke-width="1.2"/>
<line x1="27.0" y1="0" x2="27.0" y2="3.3" stroke="#222" stroke-width="0.9"/>
<text x="27.0" y="-5.6" font-size="8.6" text-anchor="middle">100°E</text>
<line x1="77.2" y1="0" x2="77.2" y2="3.3" stroke="#222" stroke-width="0.9"/>
<text x="77.2" y="-5.6" font-size="8.6" text-anchor="middle">110°E</text>
<line x1="128.6" y1="0" x2="128.6" y2="3.3" stroke="#222" stroke-width="0.9"/>
<text x="128.6" y="-5.6" font-size="8.6" text-anchor="middle">120°E</text>
<line x1="0" y1="35.9" x2="3.3" y2="35.9" stroke="#222" stroke-width="0.9"/>
<text transform="translate(-5.6,35.9) rotate(-90)" font-size="8.6" text-anchor="middle">50°N</text>
<line x1="0" y1="79.7" x2="3.3" y2="79.7" stroke="#222" stroke-width="0.9"/>
<text transform="translate(-5.6,79.7) rotate(-90)" font-size="8.6" text-anchor="middle">45°N</text>
<line x1="0" y1="123.3" x2="3.3" y2="123.3" stroke="#222" stroke-width="0.9"/>
<text transform="translate(-5.6,123.3) rotate(-90)" font-size="8.6" text-anchor="middle">40°N</text>
<text x="3.6" y="17.2" font-size="15.3">NDVI 2024</text>
<rect x="85.0" y="150.5" width="77.5" height="4.3" fill="#fff" stroke="#111" stroke-width="0.7"/>
<rect x="85.0" y="150.5" width="38.8" height="4.3" fill="#000"/>
<text x="85.7" y="146.2" font-size="9" text-anchor="middle">0</text>
<text x="123.8" y="146.2" font-size="9" text-anchor="middle">500</text>
<text x="162.9" y="146.2" font-size="9" text-anchor="middle">1,000</text>
<text x="164.9" y="155.0" font-size="9">km</text>
</g>
<g transform="translate(14.4,540.3)">
<g transform="translate(-1.2,0.8)"><g clip-path="url(#mapclip)" filter="url(#ramp)"><rect x="-5" y="-5" width="200" height="170" fill="url(#g30)"/><ellipse cx="86" cy="134" rx="13" ry="8" fill="#151515" filter="url(#b4)"/><path d="M86,121.5 L98,119.5 L108,116.5 L117,116 L124,109 L131,101" fill="none" stroke="#484848" stroke-width="9" stroke-linecap="round" stroke-linejoin="round" filter="url(#b3)"/><ellipse cx="109" cy="119" rx="7" ry="5" fill="#595959" filter="url(#b2)"/><path d="M68.7,121 L70.2,118 L74.1,116.2 L79.4,116.2 L84,117.9 L81.1,119.6 L76.8,119.9 L73.3,121.2 L70.6,123.5 L69.2,123Z" fill="#5e5e5e" stroke="#5e5e5e" stroke-width="0.6" stroke-linejoin="round" filter="url(#b05)"/><path d="M83.5,118.6 L88.5,122.2 L97,122.6 L103,120.5" fill="none" stroke="#4c4c4c" stroke-width="1.7" stroke-linecap="round" stroke-linejoin="round" filter="url(#b1)"/><ellipse cx="128" cy="45" rx="12" ry="13" fill="#3c3c3c" filter="url(#b3)"/><ellipse cx="122" cy="51" rx="5" ry="5" fill="#1a1a1a" filter="url(#b2)"/><ellipse cx="152" cy="66" rx="17" ry="7.5" fill="#777777" filter="url(#b3)"/><ellipse cx="167" cy="86" rx="7" ry="10" fill="#666666" filter="url(#b3)"/><path d="M158,66 L147,80 L134,95" fill="none" stroke="#909090" stroke-width="4.2" stroke-linecap="round" filter="url(#b1)"/><path d="M143,93.8 L150,92.6 L156.5,89.6" fill="none" stroke="#151515" stroke-width="2.6" stroke-linecap="round" filter="url(#b1)"/><ellipse cx="146" cy="104" rx="6" ry="5" fill="#888888" filter="url(#b2)"/><path d="M128,-6 L190,-6 L190,52 L172,60 L162,64.5 L153,65 L149,52 L143,40 L136,31Z" fill="#aaaaaa" filter="url(#b3)"/><path d="M130,-6 L190,-6 L190,50 L173,58 L163,62.5 L158,62 L155,52 L150,40 L140,30 L134,20Z" fill="#ffffff" filter="url(#b3)"/><path d="M127.9,39.6 L129.6,40.4 L128.6,44 L127.6,47.2 L125.7,46.6 L126.3,43Z" fill="#000"/></g></g>
<rect x="110.5" y="36.4" width="25.9" height="22.2" fill="none" stroke="#f01418" stroke-width="1.4"/>
<rect x="117.2" y="67.7" width="52.9" height="39.5" fill="none" stroke="#f01418" stroke-width="1.4"/>
</g>
<g transform="translate(14.5,540.5)">
<rect x="0" y="0" width="182.0" height="158.0" fill="none" stroke="#3a3a3a" stroke-width="1.2"/>
<line x1="30.4" y1="0" x2="30.4" y2="3.3" stroke="#222" stroke-width="0.9"/>
<text x="30.4" y="-5.6" font-size="8.6" text-anchor="middle">100°E</text>
<line x1="80.6" y1="0" x2="80.6" y2="3.3" stroke="#222" stroke-width="0.9"/>
<text x="80.6" y="-5.6" font-size="8.6" text-anchor="middle">110°E</text>
<line x1="132.0" y1="0" x2="132.0" y2="3.3" stroke="#222" stroke-width="0.9"/>
<text x="132.0" y="-5.6" font-size="8.6" text-anchor="middle">120°E</text>
<line x1="0" y1="37.5" x2="3.3" y2="37.5" stroke="#222" stroke-width="0.9"/>
<text transform="translate(-5.6,37.5) rotate(-90)" font-size="8.6" text-anchor="middle">50°N</text>
<line x1="0" y1="81.3" x2="3.3" y2="81.3" stroke="#222" stroke-width="0.9"/>
<text transform="translate(-5.6,81.3) rotate(-90)" font-size="8.6" text-anchor="middle">45°N</text>
<line x1="0" y1="124.9" x2="3.3" y2="124.9" stroke="#222" stroke-width="0.9"/>
<text transform="translate(-5.6,124.9) rotate(-90)" font-size="8.6" text-anchor="middle">40°N</text>
<text x="2.7" y="17.5" font-size="15.3">kNDVI 2015</text>
<rect x="87.7" y="149.3" width="78.0" height="4.3" fill="#fff" stroke="#111" stroke-width="0.7"/>
<rect x="87.7" y="149.3" width="39.0" height="4.3" fill="#000"/>
<text x="88.4" y="145.0" font-size="9" text-anchor="middle">0</text>
<text x="126.7" y="145.0" font-size="9" text-anchor="middle">500</text>
<text x="166.1" y="145.0" font-size="9" text-anchor="middle">1,000</text>
<text x="168.1" y="153.8" font-size="9">km</text>
</g>
<g transform="translate(214.7,540.3)">
<g transform="translate(-1.6,-1.1)"><g clip-path="url(#mapclip)" filter="url(#ramp)"><rect x="-5" y="-5" width="200" height="170" fill="url(#g31)"/><ellipse cx="86" cy="134" rx="13" ry="8" fill="#1e1e1e" filter="url(#b4)"/><path d="M86,121.5 L98,119.5 L108,116.5 L117,116 L124,109 L131,101" fill="none" stroke="#555555" stroke-width="9" stroke-linecap="round" stroke-linejoin="round" filter="url(#b3)"/><ellipse cx="109" cy="119" rx="7" ry="5" fill="#666666" filter="url(#b2)"/><path d="M68.7,121 L70.2,118 L74.1,116.2 L79.4,116.2 L84,117.9 L81.1,119.6 L76.8,119.9 L73.3,121.2 L70.6,123.5 L69.2,123Z" fill="#666666" stroke="#666666" stroke-width="0.6" stroke-linejoin="round" filter="url(#b05)"/><path d="M83.5,118.6 L88.5,122.2 L97,122.6 L103,120.5" fill="none" stroke="#555555" stroke-width="1.7" stroke-linecap="round" stroke-linejoin="round" filter="url(#b1)"/><ellipse cx="128" cy="45" rx="12" ry="13" fill="#4c4c4c" filter="url(#b3)"/><ellipse cx="122" cy="51" rx="5" ry="5" fill="#2a2a2a" filter="url(#b2)"/><ellipse cx="152" cy="66" rx="17" ry="7.5" fill="#808080" filter="url(#b3)"/><ellipse cx="167" cy="86" rx="7" ry="10" fill="#737373" filter="url(#b3)"/><path d="M158,66 L147,80 L134,95" fill="none" stroke="#999999" stroke-width="4.2" stroke-linecap="round" filter="url(#b1)"/><path d="M143,93.8 L150,92.6 L156.5,89.6" fill="none" stroke="#1a1a1a" stroke-width="2.6" stroke-linecap="round" filter="url(#b1)"/><ellipse cx="146" cy="104" rx="6" ry="5" fill="#959595" filter="url(#b2)"/><path d="M128,-6 L190,-6 L190,52 L172,60 L162,64.5 L153,65 L149,52 L143,40 L136,31Z" fill="#aaaaaa" filter="url(#b3)"/><path d="M130,-6 L190,-6 L190,50 L173,58 L163,62.5 L158,62 L155,52 L150,40 L140,30 L134,20Z" fill="#ffffff" filter="url(#b3)"/><path d="M127.9,39.6 L129.6,40.4 L128.6,44 L127.6,47.2 L125.7,46.6 L126.3,43Z" fill="#000"/></g></g>
<rect x="112.8" y="34.6" width="22.0" height="23.2" fill="none" stroke="#f01418" stroke-width="1.4"/>
<rect x="131.0" y="72.0" width="39.8" height="28.0" fill="none" stroke="#f01418" stroke-width="1.4"/>
</g>
<g transform="translate(214.5,538.5)">
<rect x="0" y="0" width="182.0" height="158.0" fill="none" stroke="#3a3a3a" stroke-width="1.2"/>
<line x1="30.2" y1="0" x2="30.2" y2="3.3" stroke="#222" stroke-width="0.9"/>
<text x="30.2" y="-5.6" font-size="8.6" text-anchor="middle">100°E</text>
<line x1="80.4" y1="0" x2="80.4" y2="3.3" stroke="#222" stroke-width="0.9"/>
<text x="80.4" y="-5.6" font-size="8.6" text-anchor="middle">110°E</text>
<line x1="131.8" y1="0" x2="131.8" y2="3.3" stroke="#222" stroke-width="0.9"/>
<text x="131.8" y="-5.6" font-size="8.6" text-anchor="middle">120°E</text>
<line x1="0" y1="37.7" x2="3.3" y2="37.7" stroke="#222" stroke-width="0.9"/>
<text transform="translate(-5.6,37.7) rotate(-90)" font-size="8.6" text-anchor="middle">50°N</text>
<line x1="0" y1="81.5" x2="3.3" y2="81.5" stroke="#222" stroke-width="0.9"/>
<text transform="translate(-5.6,81.5) rotate(-90)" font-size="8.6" text-anchor="middle">45°N</text>
<line x1="0" y1="125.1" x2="3.3" y2="125.1" stroke="#222" stroke-width="0.9"/>
<text transform="translate(-5.6,125.1) rotate(-90)" font-size="8.6" text-anchor="middle">40°N</text>
<text x="4.3" y="19.0" font-size="15.3">kNDVI 2020</text>
<rect x="87.7" y="151.3" width="78.0" height="4.3" fill="#fff" stroke="#111" stroke-width="0.7"/>
<rect x="87.7" y="151.3" width="39.0" height="4.3" fill="#000"/>
<text x="88.4" y="147.0" font-size="9" text-anchor="middle">0</text>
<text x="126.7" y="147.0" font-size="9" text-anchor="middle">500</text>
<text x="166.1" y="147.0" font-size="9" text-anchor="middle">1,000</text>
<text x="168.1" y="155.8" font-size="9">km</text>
</g>
<g transform="translate(415.0,540.3)">
<g transform="translate(-4.8,3.1)"><g clip-path="url(#mapclip)" filter="url(#ramp)"><rect x="-5" y="-5" width="200" height="170" fill="url(#g32)"/><ellipse cx="86" cy="134" rx="13" ry="8" fill="#262626" filter="url(#b4)"/><path d="M86,121.5 L98,119.5 L108,116.5 L117,116 L124,109 L131,101" fill="none" stroke="#5e5e5e" stroke-width="9" stroke-linecap="round" stroke-linejoin="round" filter="url(#b3)"/><ellipse cx="109" cy="119" rx="7" ry="5" fill="#6e6e6e" filter="url(#b2)"/><path d="M68.7,121 L70.2,118 L74.1,116.2 L79.4,116.2 L84,117.9 L81.1,119.6 L76.8,119.9 L73.3,121.2 L70.6,123.5 L69.2,123Z" fill="#6a6a6a" stroke="#6a6a6a" stroke-width="0.6" stroke-linejoin="round" filter="url(#b05)"/><path d="M83.5,118.6 L88.5,122.2 L97,122.6 L103,120.5" fill="none" stroke="#595959" stroke-width="1.7" stroke-linecap="round" stroke-linejoin="round" filter="url(#b1)"/><ellipse cx="128" cy="45" rx="12" ry="13" fill="#555555" filter="url(#b3)"/><ellipse cx="122" cy="51" rx="5" ry="5" fill="#333333" filter="url(#b2)"/><ellipse cx="152" cy="66" rx="17" ry="7.5" fill="#a2a2a2" filter="url(#b3)"/><ellipse cx="167" cy="86" rx="7" ry="10" fill="#909090" filter="url(#b3)"/><path d="M158,66 L147,80 L134,95" fill="none" stroke="#aaaaaa" stroke-width="4.2" stroke-linecap="round" filter="url(#b1)"/><path d="M143,93.8 L150,92.6 L156.5,89.6" fill="none" stroke="#222222" stroke-width="2.6" stroke-linecap="round" filter="url(#b1)"/><ellipse cx="146" cy="104" rx="6" ry="5" fill="#aaaaaa" filter="url(#b2)"/><path d="M128,-6 L190,-6 L190,52 L172,60 L162,64.5 L153,65 L149,52 L143,40 L136,31Z" fill="#aaaaaa" filter="url(#b3)"/><path d="M130,-6 L190,-6 L190,50 L173,58 L163,62.5 L158,62 L155,52 L150,40 L140,30 L134,20Z" fill="#ffffff" filter="url(#b3)"/><path d="M127.9,39.6 L129.6,40.4 L128.6,44 L127.6,47.2 L125.7,46.6 L126.3,43Z" fill="#000"/></g></g>
<rect x="109.1" y="34.6" width="25.6" height="25.9" fill="none" stroke="#f01418" stroke-width="1.4"/>
<rect x="112.5" y="67.7" width="48.9" height="45.4" fill="none" stroke="#f01418" stroke-width="1.4"/>
</g>
<g transform="translate(415.0,540.5)">
<rect x="0" y="0" width="181.5" height="158.0" fill="none" stroke="#3a3a3a" stroke-width="1.2"/>
<line x1="26.8" y1="0" x2="26.8" y2="3.3" stroke="#222" stroke-width="0.9"/>
<text x="26.8" y="-5.6" font-size="8.6" text-anchor="middle">100°E</text>
<line x1="77.0" y1="0" x2="77.0" y2="3.3" stroke="#222" stroke-width="0.9"/>
<text x="77.0" y="-5.6" font-size="8.6" text-anchor="middle">110°E</text>
<line x1="128.4" y1="0" x2="128.4" y2="3.3" stroke="#222" stroke-width="0.9"/>
<text x="128.4" y="-5.6" font-size="8.6" text-anchor="middle">120°E</text>
<line x1="0" y1="40.0" x2="3.3" y2="40.0" stroke="#222" stroke-width="0.9"/>
<text transform="translate(-5.6,40.0) rotate(-90)" font-size="8.6" text-anchor="middle">50°N</text>
<line x1="0" y1="83.8" x2="3.3" y2="83.8" stroke="#222" stroke-width="0.9"/>
<text transform="translate(-5.6,83.8) rotate(-90)" font-size="8.6" text-anchor="middle">45°N</text>
<line x1="0" y1="127.4" x2="3.3" y2="127.4" stroke="#222" stroke-width="0.9"/>
<text transform="translate(-5.6,127.4) rotate(-90)" font-size="8.6" text-anchor="middle">40°N</text>
<text x="7.0" y="17.5" font-size="15.3">kNDVI 2024</text>
<rect x="85.8" y="151.1" width="78.0" height="4.3" fill="#fff" stroke="#111" stroke-width="0.7"/>
<rect x="85.8" y="151.1" width="39.0" height="4.3" fill="#000"/>
<text x="86.5" y="146.8" font-size="9" text-anchor="middle">0</text>
<text x="124.8" y="146.8" font-size="9" text-anchor="middle">500</text>
<text x="164.2" y="146.8" font-size="9" text-anchor="middle">1,000</text>
<text x="166.2" y="155.6" font-size="9">km</text>
</g>
<rect x="609" y="16.05" width="7.85" height="684.4" fill="url(#cbar)"/>
<text x="626.3" y="20.2" font-size="11.3">1</text>
<text x="626.3" y="54.4" font-size="11.3">0.72</text>
<text x="626.3" y="88.6" font-size="11.3">0.69</text>
<text x="626.3" y="122.8" font-size="11.3">0.65</text>
<text x="626.3" y="157.0" font-size="11.3">0.61</text>
<text x="626.3" y="191.2" font-size="11.3">0.57</text>
<text x="626.3" y="225.4" font-size="11.3">0.53</text>
<text x="626.3" y="259.6" font-size="11.3">0.50</text>
<text x="626.3" y="293.8" font-size="11.3">0.46</text>
<text x="626.3" y="328.0" font-size="11.3">0.42</text>
<text x="626.3" y="362.2" font-size="11.3">0.38</text>
<text x="626.3" y="396.4" font-size="11.3">0.34</text>
<text x="626.3" y="430.6" font-size="11.3">0.30</text>
<text x="626.3" y="464.8" font-size="11.3">0.27</text>
<text x="626.3" y="499.0" font-size="11.3">0.23</text>
<text x="626.3" y="533.2" font-size="11.3">0.19</text>
<text x="626.3" y="567.4" font-size="11.3">0.15</text>
<text x="626.3" y="601.6" font-size="11.3">0.11</text>
<text x="626.3" y="635.8" font-size="11.3">0.08</text>
<text x="626.3" y="670.0" font-size="11.3">0.04</text>
<text x="626.3" y="704.2" font-size="11.3">0</text>
<text x="669.8" y="25.9" font-size="18.5" text-anchor="middle" style="font-family:'Liberation Sans',sans-serif" fill="#000">N</text>
<path d="M669.6,30.7 L655.2,76.6 L669.6,60.4Z" fill="#000" stroke="#000" stroke-width="0.8" stroke-linejoin="miter"/>
<path d="M669.6,30.7 L682.7,75.7 L669.6,60.4Z" fill="#fff" stroke="#000" stroke-width="1" stroke-linejoin="miter"/>
</svg></body></html>
